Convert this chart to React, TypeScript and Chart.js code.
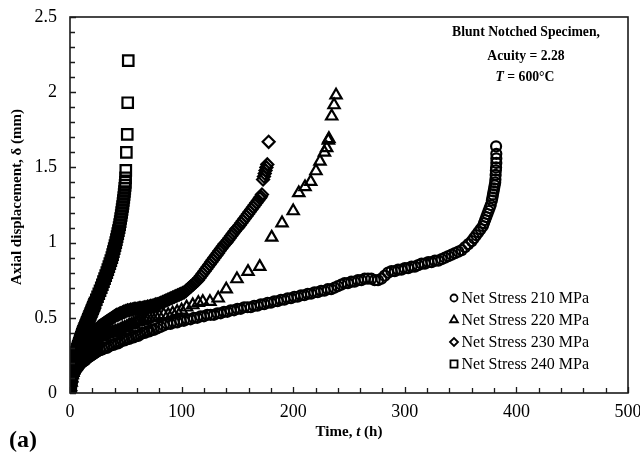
import { useEffect, useRef } from "react";
import { Chart, registerables } from "chart.js";
import { drawPoint } from "chart.js/helpers";

Chart.register(...registerables);

const SERIF = "'Liberation Serif', 'Times New Roman', serif";

// Series names and marker shapes
const seriesLabels = ["Net Stress 210 MPa", "Net Stress 220 MPa", "Net Stress 230 MPa", "Net Stress 240 MPa"];
const seriesStyles = ["circle", "triangle", "rectRot", "rect"];
const seriesRadius = [5, 6.5, 6, 7.4];

// Axis ticks
const xTickValues = [0, 100, 200, 300, 400, 500];
const yTickValues = [0, 0.5, 1, 1.5, 2, 2.5];

// Net stress 210 MPa: time (h) and axial displacement (mm)
const time210 = [0, 0.3, 0.6, 1, 1.5, 2, 2.5, 3, 3.5, 4, 4.5, 5, 6, 7, 8, 9, 10, 11, 12, 13, 14, 15, 16, 17, 18, 19, 20, 21, 22, 23, 24, 25, 27, 29, 31, 33, 35, 37, 39, 41, 43, 45, 47, 49, 51, 53, 55, 57, 59, 61, 63, 65, 67, 69, 71, 73, 75, 78, 81, 84, 87, 90, 93, 96, 99, 102, 105, 108, 111, 114, 117, 120, 123, 126, 129, 132, 135, 138, 141, 144, 147, 150, 153, 156, 159, 162, 165, 168, 171, 174, 177, 180, 183, 186, 189, 192, 195, 198, 201, 204, 207, 210, 213, 216, 219, 222, 225, 228, 231, 234, 237, 240, 243, 246, 249, 252, 255, 258, 261, 264, 267, 270, 273, 276, 279, 282, 285, 288, 291, 294, 297, 300, 303, 306, 309, 312, 315, 318, 321, 324, 327, 330, 333, 336, 339, 342, 345, 348, 351, 354, 357, 360, 362, 364, 366, 368, 370, 371, 372, 373, 374, 375, 376, 377, 378, 378.5, 379, 379.5, 380, 380.5, 381, 381.2, 381.4, 381.6, 381.8, 382, 382, 382, 381.8];
const disp210 = [0, 0.03, 0.05, 0.07, 0.09, 0.1, 0.11, 0.12, 0.13, 0.14, 0.145, 0.15, 0.16, 0.17, 0.18, 0.19, 0.2, 0.205, 0.21, 0.215, 0.22, 0.23, 0.235, 0.24, 0.245, 0.25, 0.255, 0.26, 0.265, 0.27, 0.275, 0.28, 0.285, 0.29, 0.3, 0.3, 0.31, 0.32, 0.32, 0.33, 0.33, 0.34, 0.35, 0.35, 0.36, 0.36, 0.37, 0.37, 0.38, 0.38, 0.39, 0.4, 0.4, 0.41, 0.41, 0.42, 0.42, 0.43, 0.44, 0.45, 0.46, 0.46, 0.47, 0.47, 0.48, 0.48, 0.49, 0.49, 0.5, 0.5, 0.51, 0.51, 0.52, 0.52, 0.52, 0.53, 0.53, 0.54, 0.54, 0.55, 0.55, 0.56, 0.56, 0.57, 0.57, 0.57, 0.58, 0.58, 0.59, 0.59, 0.6, 0.6, 0.61, 0.61, 0.62, 0.62, 0.63, 0.63, 0.64, 0.64, 0.65, 0.65, 0.66, 0.66, 0.67, 0.67, 0.68, 0.68, 0.69, 0.69, 0.7, 0.71, 0.72, 0.73, 0.73, 0.74, 0.74, 0.75, 0.75, 0.76, 0.76, 0.76, 0.75, 0.75, 0.76, 0.78, 0.8, 0.81, 0.81, 0.82, 0.82, 0.83, 0.83, 0.84, 0.84, 0.85, 0.86, 0.86, 0.87, 0.87, 0.88, 0.88, 0.89, 0.9, 0.91, 0.92, 0.93, 0.94, 0.95, 0.97, 0.99, 1.01, 1.03, 1.05, 1.07, 1.09, 1.11, 1.13, 1.15, 1.17, 1.19, 1.21, 1.23, 1.25, 1.28, 1.3, 1.32, 1.34, 1.36, 1.38, 1.4, 1.42, 1.45, 1.48, 1.5, 1.53, 1.56, 1.59, 1.64];

// Net stress 220 MPa
const time220 = [0, 0.5, 1, 1.5, 2, 2.5, 3, 4, 5, 6, 7, 8, 9, 10, 11, 12, 13, 14, 15, 16, 17, 18, 19, 20, 21.5, 23, 24.5, 26, 27.5, 29, 30.5, 32, 33.5, 35, 36.5, 38, 39.5, 41, 43, 45, 47, 49, 51, 53, 55, 57, 59, 61, 63, 65, 67, 69, 71, 74, 77, 80, 84, 88, 92, 96, 100, 104.5, 110, 115, 119, 125.4, 132.8, 140, 149.6, 159.5, 170, 180.7, 190, 200, 205, 210.6, 215.7, 220.4, 224, 228, 230, 231.5, 232, 234.5, 236.6, 238.4];
const disp220 = [0, 0.04, 0.07, 0.1, 0.12, 0.135, 0.15, 0.18, 0.2, 0.22, 0.235, 0.25, 0.26, 0.27, 0.28, 0.29, 0.295, 0.3, 0.31, 0.32, 0.325, 0.33, 0.335, 0.34, 0.345, 0.35, 0.36, 0.37, 0.375, 0.38, 0.385, 0.39, 0.395, 0.4, 0.4, 0.4, 0.405, 0.41, 0.415, 0.42, 0.43, 0.435, 0.44, 0.45, 0.455, 0.46, 0.47, 0.475, 0.48, 0.48, 0.485, 0.49, 0.5, 0.5, 0.505, 0.51, 0.52, 0.52, 0.53, 0.54, 0.55, 0.57, 0.585, 0.6, 0.607, 0.607, 0.63, 0.69, 0.758, 0.807, 0.84, 1.035, 1.13, 1.21, 1.33, 1.37, 1.405, 1.476, 1.54, 1.6, 1.63, 1.68, 1.69, 1.84, 1.915, 1.98];

// Net stress 230 MPa
const time230 = [0, 1, 2, 3, 4, 5, 6, 7, 8, 9, 10, 11, 12, 13, 14, 15, 16, 17, 18, 19, 20, 21, 22, 23, 24, 25, 26, 27, 28, 29, 30, 31, 32, 33, 34, 35, 36, 37, 38, 39, 40, 41, 42, 43, 44, 45, 46, 47, 48, 49, 50, 51.5, 53, 54.5, 56, 57.5, 59, 60.5, 62, 63.5, 65, 66.5, 68, 69.5, 71, 72.5, 74, 75.5, 77, 78.5, 80, 81.5, 83, 84.5, 86, 87.5, 89, 90.5, 92, 93.5, 95, 96.5, 98, 99.5, 101, 102.5, 104, 105.5, 107, 108.5, 110, 111.5, 113, 114.5, 116, 117.5, 119, 120.5, 122, 123.5, 125, 126.5, 128, 129.5, 131, 132.5, 134, 135.5, 137, 138.5, 140, 141.5, 143, 144.5, 146, 147.5, 149, 150.5, 152, 153.5, 155, 156.5, 158, 159.5, 161, 162.5, 164, 165.5, 167, 168.5, 170, 171, 172, 173, 173.8, 174.5, 175.2, 176, 176.8, 178];
const disp230 = [0, 0.07, 0.11, 0.14, 0.17, 0.19, 0.21, 0.23, 0.25, 0.265, 0.28, 0.295, 0.31, 0.32, 0.33, 0.34, 0.35, 0.36, 0.37, 0.38, 0.39, 0.4, 0.41, 0.415, 0.42, 0.43, 0.44, 0.445, 0.45, 0.455, 0.46, 0.465, 0.47, 0.475, 0.48, 0.485, 0.49, 0.495, 0.5, 0.505, 0.51, 0.515, 0.52, 0.52, 0.525, 0.53, 0.53, 0.535, 0.54, 0.54, 0.545, 0.55, 0.55, 0.555, 0.555, 0.56, 0.56, 0.56, 0.565, 0.565, 0.565, 0.57, 0.57, 0.575, 0.575, 0.58, 0.58, 0.585, 0.59, 0.59, 0.595, 0.6, 0.605, 0.61, 0.615, 0.62, 0.625, 0.63, 0.635, 0.64, 0.645, 0.65, 0.655, 0.66, 0.665, 0.67, 0.68, 0.69, 0.7, 0.71, 0.72, 0.73, 0.74, 0.75, 0.765, 0.78, 0.795, 0.81, 0.825, 0.84, 0.855, 0.87, 0.885, 0.9, 0.915, 0.93, 0.945, 0.96, 0.975, 0.99, 1.0, 1.015, 1.03, 1.045, 1.06, 1.075, 1.09, 1.1, 1.115, 1.13, 1.145, 1.16, 1.175, 1.19, 1.205, 1.22, 1.235, 1.25, 1.265, 1.28, 1.295, 1.305, 1.32, 1.42, 1.44, 1.46, 1.48, 1.5, 1.52, 1.67];

// Net stress 240 MPa
const time240 = [0, 0.1, 0.2, 0.3, 0.4, 0.5, 0.6, 0.75, 0.9, 1.05, 1.2, 1.4, 1.6, 1.8, 2.0, 2.25, 2.5, 2.75, 3.0, 3.25, 3.5, 3.8, 4.1, 4.45, 4.8, 5.15, 5.5, 5.85, 6.2, 6.6, 7.0, 7.45, 7.9, 8.35, 8.8, 9.25, 9.7, 10.15, 10.6, 11.05, 11.5, 12.05, 12.6, 13.15, 13.7, 14.25, 14.8, 15.35, 15.9, 16.45, 17.0, 17.55, 18.1, 18.65, 19.2, 19.75, 20.3, 20.85, 21.4, 21.95, 22.5, 23.6, 24.7, 25.8, 26.9, 28.0, 29.0, 30.0, 31.0, 32.0, 33.0, 33.9, 34.8, 35.7, 36.6, 37.5, 38.2, 38.9, 39.6, 40.3, 41.0, 41.6, 42.2, 42.8, 43.4, 44.0, 44.5, 45.0, 45.4, 45.9, 46.3, 46.7, 47.1, 47.5, 47.8, 48.2, 48.5, 48.8, 49.1, 49.4, 49.6, 49.8, 50.0, 50.5, 51.3, 51.7, 52.2];
const disp240 = [0, 0.01, 0.02, 0.03, 0.04, 0.05, 0.06, 0.07, 0.08, 0.09, 0.1, 0.11, 0.12, 0.13, 0.14, 0.15, 0.16, 0.17, 0.18, 0.19, 0.2, 0.21, 0.22, 0.23, 0.24, 0.25, 0.26, 0.27, 0.28, 0.29, 0.3, 0.31, 0.32, 0.33, 0.34, 0.35, 0.36, 0.37, 0.38, 0.39, 0.4, 0.41, 0.42, 0.43, 0.44, 0.45, 0.46, 0.47, 0.48, 0.49, 0.5, 0.51, 0.52, 0.53, 0.54, 0.55, 0.56, 0.57, 0.58, 0.59, 0.6, 0.62, 0.64, 0.66, 0.68, 0.7, 0.72, 0.74, 0.76, 0.78, 0.8, 0.82, 0.84, 0.86, 0.88, 0.9, 0.92, 0.94, 0.96, 0.98, 1.0, 1.02, 1.04, 1.06, 1.08, 1.1, 1.12, 1.14, 1.16, 1.18, 1.2, 1.22, 1.24, 1.26, 1.28, 1.3, 1.32, 1.34, 1.36, 1.38, 1.4, 1.43, 1.48, 1.6, 1.72, 1.93, 2.21];

const seriesTimes = [time210, time220, time230, time240];
const seriesDisps = [disp210, disp220, disp230, disp240];

type Run = { text: string; font: string };

function drawRuns(ctx: CanvasRenderingContext2D, runs: Run[], cx: number, cy: number) {
  let total = 0;
  for (const r of runs) {
    ctx.font = r.font;
    total += ctx.measureText(r.text).width;
  }
  let x = cx - total / 2;
  ctx.textAlign = "left";
  ctx.textBaseline = "middle";
  for (const r of runs) {
    ctx.font = r.font;
    ctx.fillText(r.text, x, cy);
    x += ctx.measureText(r.text).width;
  }
}

const framePlugin = {
  id: "frame",
  afterDraw(chart: any) {
    const { ctx, chartArea, scales } = chart;
    const { left, right, top, bottom } = chartArea;
    const xs = scales.x;
    const ys = scales.y;
    ctx.save();
    ctx.strokeStyle = "#1a1a1a";
    ctx.fillStyle = "#000";

    // inward tick marks
    ctx.lineWidth = 1.3;
    ctx.beginPath();
    for (let v = 0; v <= 500; v += 20) {
      const px = Math.round(xs.getPixelForValue(v)) + 0.5;
      ctx.moveTo(px, bottom);
      ctx.lineTo(px, bottom - (v % 100 === 0 ? 6 : 5));
    }
    for (let i = 0; i <= 25; i++) {
      const py = Math.round(ys.getPixelForValue(i / 10)) + 0.5;
      ctx.moveTo(left, py);
      ctx.lineTo(left + (i % 5 === 0 ? 6 : 5), py);
    }
    ctx.stroke();

    // plot box
    ctx.lineWidth = 1.6;
    ctx.strokeRect(left, top, right - left, bottom - top);

    // axis titles
    const bold15 = `bold 15px ${SERIF}`;
    const boldIt15 = `italic bold 15px ${SERIF}`;
    drawRuns(ctx, [
      { text: "Time, ", font: bold15 },
      { text: "t", font: boldIt15 },
      { text: " (h)", font: bold15 },
    ], (left + right) / 2, 432);

    ctx.save();
    ctx.translate(17, 197);
    ctx.rotate(-Math.PI / 2);
    drawRuns(ctx, [{ text: "Axial displacement, δ (mm)", font: bold15 }], 0, 0);
    ctx.restore();

    // specimen note
    const bold13 = `bold 13.7px ${SERIF}`;
    const boldIt13 = `italic bold 13.7px ${SERIF}`;
    drawRuns(ctx, [{ text: "Blunt Notched Specimen,", font: bold13 }], 526, 32);
    drawRuns(ctx, [{ text: "Acuity = 2.28", font: bold13 }], 526, 56);
    drawRuns(ctx, [
      { text: "T", font: boldIt13 },
      { text: " = 600°C", font: bold13 },
    ], 525, 77);

    // panel label
    drawRuns(ctx, [{ text: "(a)", font: `bold 24px ${SERIF}` }], 23, 441);

    // legend
    const legendY = [298, 320, 342, 364];
    const legendR = [3.5, 4.5, 4, 5];
    seriesLabels.forEach((label, i) => {
      ctx.lineWidth = 1.8;
      ctx.strokeStyle = "#000";
      ctx.fillStyle = "rgba(0,0,0,0)";
      drawPoint(ctx, {
        pointStyle: seriesStyles[i],
        radius: legendR[i],
        rotation: 0,
        borderWidth: 1.8,
      } as any, 454, legendY[i]);
      ctx.fillStyle = "#000";
      ctx.font = `16px ${SERIF}`;
      ctx.textAlign = "left";
      ctx.textBaseline = "middle";
      ctx.fillText(label, 461.5, legendY[i] + 1);
    });
    ctx.restore();
  },
};

function zeroPadding(scale: any) {
  scale.paddingTop = 0;
  scale.paddingBottom = 0;
  scale.paddingLeft = 0;
  scale.paddingRight = 0;
}

export default function App() {
  const canvasRef = useRef<HTMLCanvasElement | null>(null);

  useEffect(() => {
    const canvas = canvasRef.current;
    if (!canvas) return;
    const datasets = seriesLabels.map((label, i) => ({
      label,
      data: seriesTimes[i].map((t, k) => ({ x: t, y: seriesDisps[i][k] })),
      showLine: false,
      pointStyle: seriesStyles[i],
      pointRadius: seriesRadius[i],
      pointHoverRadius: seriesRadius[i],
      pointBorderWidth: 2.2,
      borderColor: "#000",
      backgroundColor: "rgba(0,0,0,0)",
      pointBorderColor: "#000",
      pointBackgroundColor: "rgba(0,0,0,0)",
    }));

    const chart = new Chart(canvas, {
      type: "scatter",
      data: { datasets },
      plugins: [framePlugin],
      options: {
        responsive: false,
        animation: false,
        devicePixelRatio: 1,
        layout: { padding: { top: 17, right: 12, left: 0, bottom: 0 } },
        plugins: {
          legend: { display: false },
          tooltip: { enabled: false },
        },
        scales: {
          x: {
            type: "linear",
            min: 0,
            max: 500,
            afterBuildTicks: (scale: any) => {
              scale.ticks = xTickValues.map((v) => ({ value: v }));
            },
            afterFit: (scale: any) => {
              scale.height = 72;
              zeroPadding(scale);
            },
            grid: { display: false, drawTicks: false },
            border: { display: false },
            ticks: {
              padding: 8,
              color: "#000",
              font: { family: SERIF, size: 18 },
              maxRotation: 0,
            },
          },
          y: {
            type: "linear",
            min: 0,
            max: 2.5,
            afterBuildTicks: (scale: any) => {
              scale.ticks = yTickValues.map((v) => ({ value: v }));
            },
            afterFit: (scale: any) => {
              scale.width = 70;
              zeroPadding(scale);
            },
            grid: { display: false, drawTicks: false },
            border: { display: false },
            ticks: {
              padding: 13,
              color: "#000",
              font: { family: SERIF, size: 18 },
              callback: (v: any) => String(v),
            },
          },
        },
      },
    } as any);

    return () => chart.destroy();
  }, []);

  return (
    <div style={{ position: "fixed", left: 0, top: 0, width: 640, height: 465, background: "#fff" }}>
      <canvas ref={canvasRef} width={640} height={465} />
    </div>
  );
}
